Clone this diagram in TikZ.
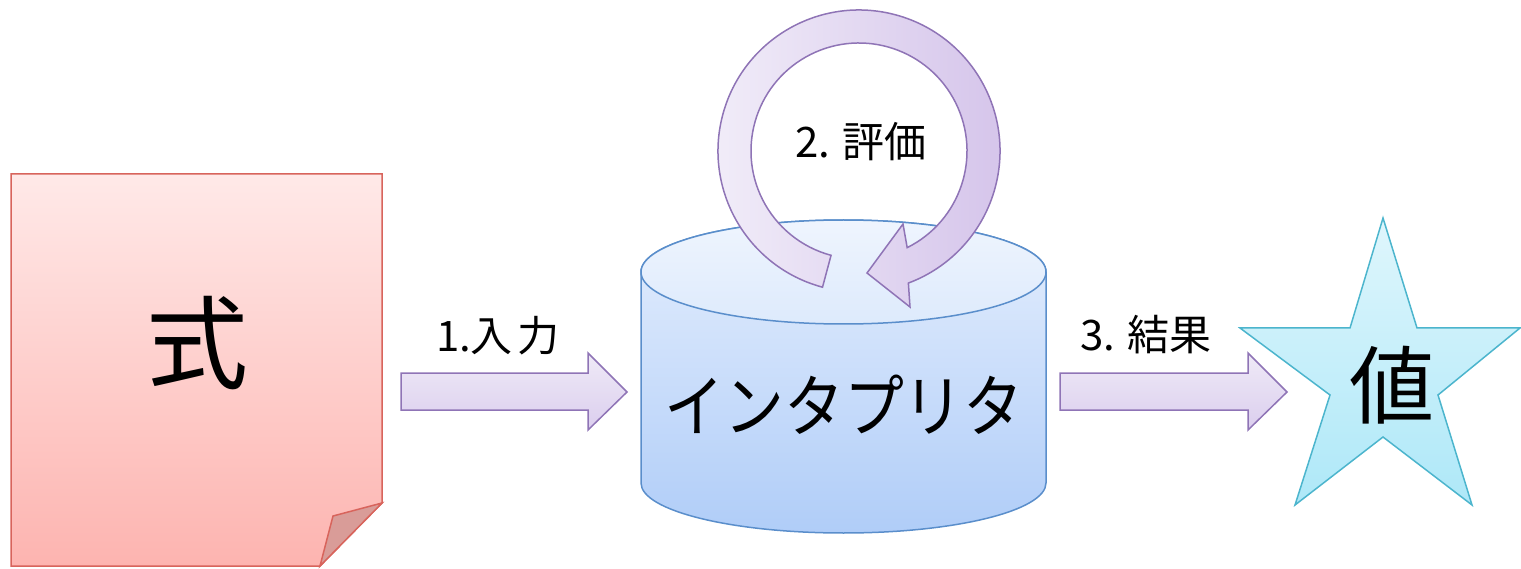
\documentclass[tikz,border=0pt]{standalone}
\usepackage{fontspec}
\setmainfont{Noto Sans CJK JP}
\usetikzlibrary{calc}
\definecolor{docTop}{HTML}{FFE9E8}
\definecolor{docBot}{HTML}{FDB4B0}
\definecolor{docLine}{HTML}{D8645C}
\definecolor{docFlap}{HTML}{D99C98}
\definecolor{arTop}{HTML}{EFEAF7}
\definecolor{arBot}{HTML}{DBCEEE}
\definecolor{arLeft}{HTML}{F2EEF9}
\definecolor{arRight}{HTML}{D4C3EA}
\definecolor{arLine}{HTML}{8F74B6}
\definecolor{cyTop}{HTML}{E4EEFD}
\definecolor{cyBot}{HTML}{B0CDF8}
\definecolor{cyLid}{HTML}{DDEAFC}
\definecolor{cyLine}{HTML}{5A8ECB}
\definecolor{stTop}{HTML}{DFF6FC}
\definecolor{stBot}{HTML}{AEE8F8}
\definecolor{stLine}{HTML}{4CB5CD}
\tikzset{
  shape line/.style={line width=1.5pt, line join=miter},
  docshape/.style={shape line, draw=docLine, top color=docTop, bottom color=docBot},
  flapshape/.style={shape line, draw=docLine, fill=docFlap},
  blockarrow/.style={shape line, draw=arLine, top color=arTop, bottom color=arBot},
  looparrow/.style={shape line, draw=arLine, left color=arLeft, right color=arRight},
  cylbody/.style={shape line, draw=cyLine, top color=cyTop, bottom color=cyBot},
  cyllid/.style={shape line, draw=cyLine, top color=cyTop!60!white, bottom color=cyLid},
  starshape/.style={shape line, draw=stLine, top color=stTop, bottom color=stBot},
  label text/.style={inner sep=0pt, font=\fontsize{42}{50}\selectfont},
}
\begin{document}
\begin{tikzpicture}[x=1pt, y=-1pt]
\useasboundingbox (0,0) rectangle (1521,569);

% ---- document (式)
\path[docshape] (11,174) -- (382,174) -- (382,503) -- (320,566) -- (11,566) -- cycle;
\path[flapshape] (382,503) -- (333,516) -- (320,566) -- cycle;
\node[inner sep=0pt, font=\fontsize{102}{110}\selectfont] (doc) at (197,343) {式};

% ---- arrow 1
\path[blockarrow] (401,373) -- (588,373) -- (588,353) -- (627,392) -- (588,430) -- (588,410) -- (401,410) -- cycle;
\node[label text] (l1) at (498,336) {1.入\hspace{5pt}力};

% ---- cylinder (インタプリタ)
\path[cylbody] (641,272) -- (641,483) arc[start angle=180, end angle=0, x radius=202.5, y radius=50]
  -- (1046,272) arc[start angle=0, end angle=-180, x radius=202.5, y radius=52] -- cycle;
\path[cyllid] (843.5,272) ellipse[x radius=202.5, y radius=52];
\node[inner sep=0pt, font=\fontsize{68}{76}\selectfont] (interp) at (844,405) {\scalebox{0.88}[1]{インタプリタ}};

% ---- loop arrow (2. 評価)
\coordinate (c) at (859,151);
\path[looparrow] ($(c)+(105:141)$) arc[start angle=105, end angle=429.5, radius=141]
  -- (910,307) -- (867,273) -- (903,224)
  -- ($(c)+(423.5:108)$) arc[start angle=423.5, end angle=105, radius=108] -- cycle;
\node[label text] (l2) at (861,142) {2. 評価};

% ---- arrow 3
\path[blockarrow] (1060,373) -- (1248,373) -- (1248,353) -- (1287,392) -- (1248,430) -- (1248,410) -- (1060,410) -- cycle;
\node[label text] (l3) at (1146,335) {3. 結果};

% ---- star (値)
\path[starshape] (1383,218) -- (1417,328) -- (1520,328) -- (1438,395) -- (1472,505)
  -- (1383,437) -- (1295,505) -- (1330,395) -- (1240,328) -- (1350,328) -- cycle;
\node[inner sep=0pt, font=\fontsize{85}{92}\selectfont] (val) at (1392,385) {値};
\end{tikzpicture}
\end{document}
